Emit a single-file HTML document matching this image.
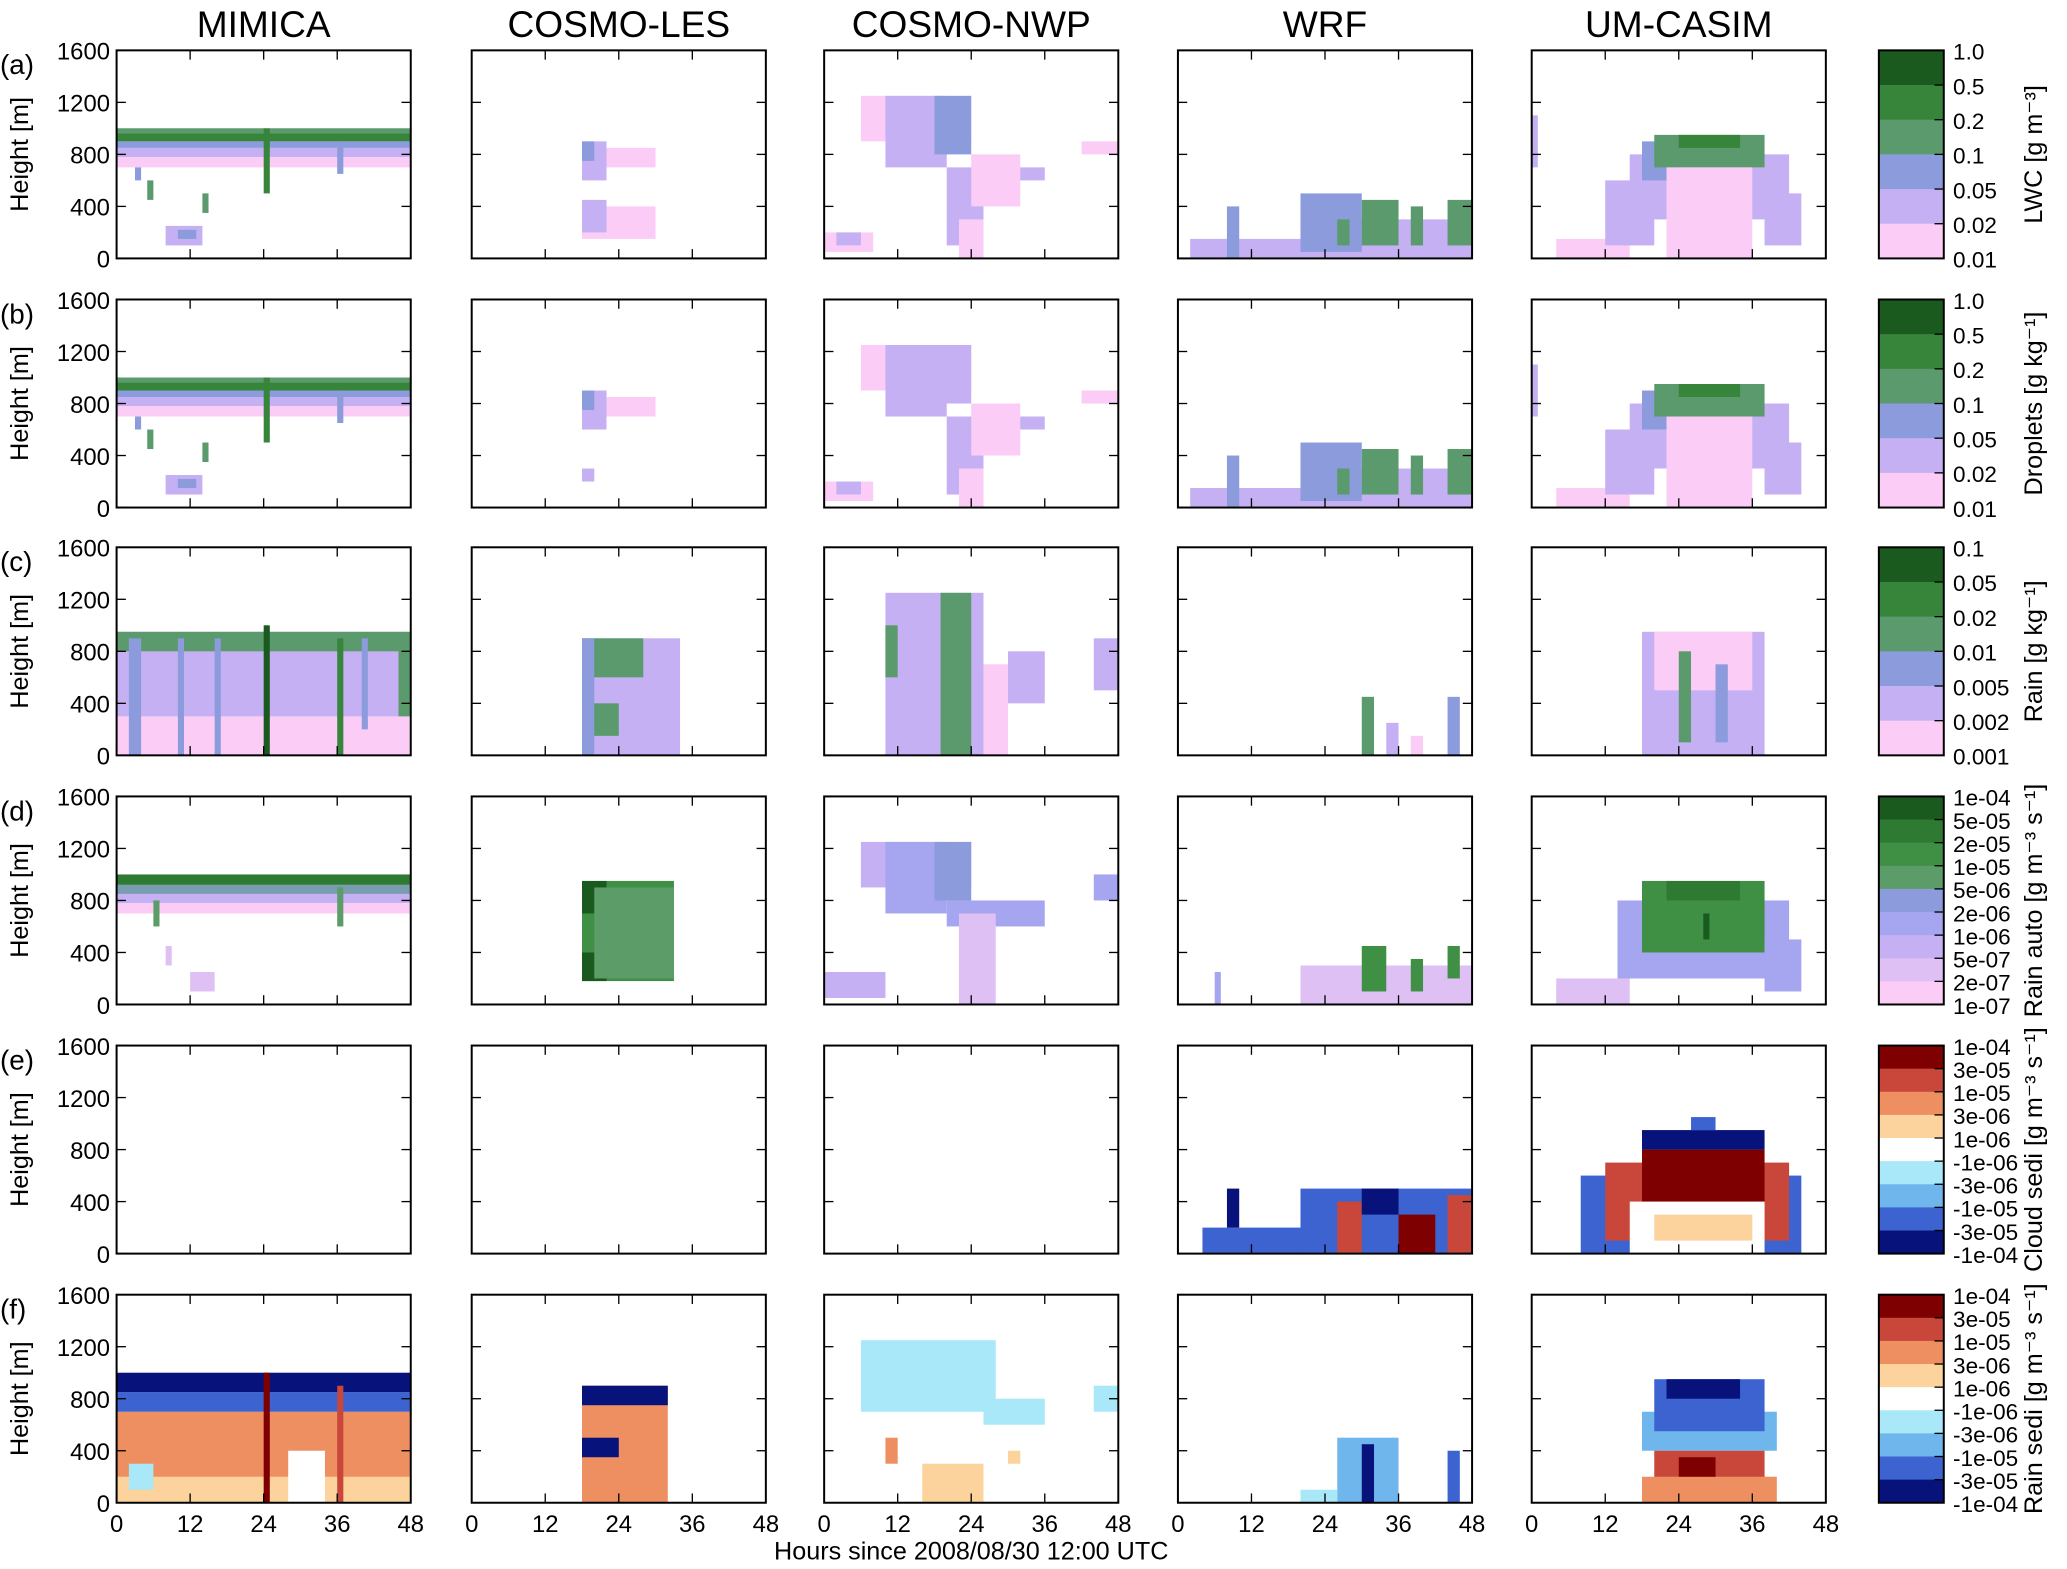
<!DOCTYPE html>
<html><head><meta charset="utf-8"><style>
html,body{margin:0;padding:0;background:#fff;}
svg{display:block;font-family:"Liberation Sans",sans-serif;}
</style></head><body>
<svg id="fig" width="2067" height="1569" viewBox="0 0 1560 1184" preserveAspectRatio="none" xmlns="http://www.w3.org/2000/svg"></svg>
<script>
const models=["MIMICA","COSMO-LES","COSMO-NWP","WRF","UM-CASIM"];
const rowLetters=["(a)","(b)","(c)","(d)","(e)","(f)"];
const xTicks=[0,12,24,36,48];
const yTicks=[0,400,800,1200,1600];
const cbLabels=[
 ["1.0","0.5","0.2","0.1","0.05","0.02","0.01"],
 ["1.0","0.5","0.2","0.1","0.05","0.02","0.01"],
 ["0.1","0.05","0.02","0.01","0.005","0.002","0.001"],
 ["1e-04","5e-05","2e-05","1e-05","5e-06","2e-06","1e-06","5e-07","2e-07","1e-07"],
 ["1e-04","3e-05","1e-05","3e-06","1e-06","-1e-06","-3e-06","-1e-05","-3e-05","-1e-04"],
 ["1e-04","3e-05","1e-05","3e-06","1e-06","-1e-06","-3e-06","-1e-05","-3e-05","-1e-04"]];
const cbTitles=["LWC [g m\u207B\u00B3]","Droplets [g kg\u207B\u00B9]","Rain [g kg\u207B\u00B9]","Rain auto [g m\u207B\u00B3 s\u207B\u00B9]","Cloud sedi [g m\u207B\u00B3 s\u207B\u00B9]","Rain sedi [g m\u207B\u00B3 s\u207B\u00B9]"];
const seqColors=["#1b5a1e","#37853a","#5b9a6c","#8c9bdc","#c4b0f3","#fbcdf6"];
const autoColors=["#1b5a1e","#2f7a32","#3f8f45","#5c9c68","#7a9cb0","#8c9bdc","#a6a5ef","#c4b0f3","#dfc0f5","#fbcdf6"];
const divColors=["#7f0000","#c9473a","#ee8f62","#fcd39d","#ffffff","#a8e8f8","#6fb6ec","#3d63d1","#07127a"];
// cells: [t0,t1,z0,z1,levelIndex] (level 0 = top of colorbar)
const lwcMimica=[[0,48,700,780,5],[0,48,780,850,4],[0,48,850,900,3],[0,48,900,1000,1],[0,48,960,1000,2],[24,25,500,1000,1],[14,15,350,500,2],[5,6,450,600,2],[8,14,100,250,4],[10,13,150,220,3],[3,4,600,700,3],[36,37,650,900,3]];
const lesA=[[18,30,150,400,5],[18,22,200,450,4],[18,30,700,850,5],[18,22,600,900,4],[18,20,750,900,3]];
const nwpA=[[6,24,900,1250,5],[10,20,700,1250,4],[18,24,800,1250,3],[20,26,100,700,4],[22,26,0,300,5],[0,8,50,200,5],[2,6,100,200,4],[42,48,800,900,5],[30,36,600,700,4],[24,32,400,800,5]];
const wrfA=[[2,48,0,150,4],[20,46,0,300,4],[8,10,0,400,3],[20,30,50,500,3],[30,36,100,450,2],[38,40,100,400,2],[44,48,100,450,2],[26,28,100,300,2]];
const umA=[[4,16,0,150,5],[12,20,100,600,4],[16,42,300,800,4],[18,24,600,900,3],[20,38,700,950,2],[24,34,850,950,1],[22,36,0,700,5],[38,44,100,500,4],[0,1,700,1100,4]];
const rainMimica=[[0,48,0,950,5],[0,48,300,950,4],[0,48,800,950,2],[2,4,0,900,3],[10,11,0,900,3],[16,17,0,900,3],[24,25,0,1000,0],[36,37,0,900,1],[40,41,200,900,3],[46,48,300,900,2]];
const lesC=[[18,34,0,900,4],[18,28,600,900,2],[18,24,150,400,2],[18,20,0,900,3]];
const nwpC=[[10,26,0,1250,4],[19,24,0,1250,2],[10,12,600,1000,2],[30,36,400,800,4],[44,48,500,900,4],[26,30,0,700,5]];
const wrfC=[[30,32,0,450,2],[34,36,0,250,4],[44,46,0,450,3],[38,40,0,150,5]];
const umC=[[18,38,0,950,4],[20,36,500,950,5],[24,26,100,800,2],[30,32,100,700,3]];
const autoMimica=[[0,48,700,780,9],[0,48,780,850,7],[0,48,850,920,4],[0,48,920,1000,1],[6,7,600,800,3],[36,37,600,900,3],[12,16,100,250,8],[8,9,300,450,8]];
const lesD=[[18,33,180,950,2],[18,22,700,950,0],[18,22,180,400,0],[20,33,200,900,3]];
const nwpD=[[6,24,900,1250,7],[10,20,700,1250,6],[18,24,800,1250,5],[20,36,600,800,6],[0,10,50,250,7],[44,48,800,1000,6],[22,28,0,700,8]];
const wrfD=[[20,48,0,300,8],[30,34,100,450,2],[38,40,100,350,2],[44,46,200,450,2],[6,7,0,250,6]];
const umD=[[4,16,0,200,8],[14,42,200,800,6],[18,38,400,950,2],[22,34,800,950,1],[28,29,500,700,0],[38,44,100,500,6]];
const wrfE=[[4,48,0,200,7],[20,48,0,500,7],[26,30,0,400,1],[36,42,0,300,0],[30,36,300,500,8],[8,10,200,500,8],[44,48,0,450,1]];
const umE=[[8,44,0,600,7],[12,42,100,700,1],[18,38,400,800,0],[18,38,800,950,8],[26,30,950,1050,7],[16,38,0,400,4],[20,36,100,300,3]];
const rainMimicaF=[[0,48,0,700,3],[0,48,200,700,2],[0,48,700,850,7],[0,48,850,1000,8],[24,25,0,1000,0],[36,37,0,900,1],[28,34,0,400,4],[2,6,100,300,5]];
const lesF=[[18,32,0,900,2],[18,32,750,900,8],[18,24,350,500,8]];
const nwpF=[[6,28,700,1250,5],[10,12,300,500,2],[16,26,0,300,3],[44,48,700,900,5],[26,36,600,800,5],[30,32,300,400,3]];
const wrfF=[[26,36,0,500,6],[30,32,0,450,8],[44,46,0,400,7],[20,26,0,100,5]];
const umF=[[18,40,400,700,6],[20,38,550,950,7],[22,34,800,950,8],[20,38,100,400,1],[18,40,0,200,2],[24,30,200,350,0]];
const panels=[
 [lwcMimica,lesA,nwpA,wrfA,umA],
 [lwcMimica,lesA.slice(2).concat([[18,20,200,300,4]]),nwpA.map(c=>[c[0],c[1],c[2],c[3],Math.max(4,c[4])]),wrfA,umA],
 [rainMimica,lesC,nwpC,wrfC,umC],
 [autoMimica,lesD,nwpD,wrfD,umD],
 [[],[],[],wrfE,umE],
 [rainMimicaF,lesF,nwpF,wrfF,umF]];
const palettes=[seqColors,seqColors,seqColors,autoColors,divColors,divColors];

const NS="http://www.w3.org/2000/svg";
const svg=document.getElementById("fig");
function el(tag,attrs,parent){const e=document.createElementNS(NS,tag);for(const k in attrs)e.setAttribute(k,attrs[k]);(parent||svg).appendChild(e);return e;}
const colX=[88,356,622,889,1156], pw=222;
const rowY=[38,226,413,601,789,977], ph=157;
const xs=(c,t)=>colX[c]+t/48*pw;
const ys=(r,z)=>rowY[r]+ph-z/1600*ph;

models.forEach((m,c)=>{
 const t=el("text",{x:colX[c]+pw/2,y:28,"text-anchor":"middle","font-size":28});
 t.textContent=m;
 
 
});
for(let r=0;r<6;r++){
 const lab=el("text",{x:0,y:rowY[r]+18,"font-size":21});lab.textContent=rowLetters[r];
 
 
 const yl=el("text",{x:0,y:0,"font-size":19,"text-anchor":"middle",transform:`translate(21,${rowY[r]+ph/2}) rotate(-90)`});yl.textContent="Height [m]";
 
 
 for(let c=0;c<5;c++){
  const g=el("g",{});
  
  
  const pal=palettes[r];
  panels[r][c].forEach(cell=>{
   const x0=xs(c,cell[0]),x1=xs(c,cell[1]),y0=ys(r,cell[3]),y1=ys(r,cell[2]);
   const rc=el("rect",{x:x0,y:y0,width:x1-x0,height:y1-y0,fill:pal[Math.min(cell[4],pal.length-1)]},g);
   
   
  });
  el("rect",{x:colX[c],y:rowY[r],width:pw,height:ph,fill:"none",stroke:"#000","stroke-width":1.5},g);
  xTicks.forEach(v=>{const x=xs(c,v);
   el("line",{x1:x,x2:x,y1:rowY[r]+ph,y2:rowY[r]+ph-7,stroke:"#000"},g);
   el("line",{x1:x,x2:x,y1:rowY[r],y2:rowY[r]+7,stroke:"#000"},g);
   if(r===5){const tt=el("text",{x:x,y:rowY[r]+ph+22,"text-anchor":"middle","font-size":18},g);tt.textContent=v;}
  });
  yTicks.forEach(v=>{const y=ys(r,v);
   el("line",{x1:colX[c],x2:colX[c]+7,y1:y,y2:y,stroke:"#000"},g);
   el("line",{x1:colX[c]+pw,x2:colX[c]+pw-7,y1:y,y2:y,stroke:"#000"},g);
   if(c===0){const tt=el("text",{x:colX[c]-5,y:y+7,"text-anchor":"end","font-size":18},g);tt.textContent=v;}
  });
 }
 const labs=cbLabels[r], n=labs.length-1, pal=palettes[r];
 const cb=el("g",{});
 
 
 for(let i=0;i<n;i++){
  const ci=pal.length===n?i:Math.round(i*(pal.length-1)/(n-1));
  el("rect",{x:1418,y:rowY[r]+i*ph/n,width:49,height:ph/n+0.5,fill:pal[ci]},cb);
 }
 el("rect",{x:1418,y:rowY[r],width:49,height:ph,fill:"none",stroke:"#000","stroke-width":1.5},cb);
 labs.forEach((l,i)=>{const y=rowY[r]+i*ph/n;
  el("line",{x1:1467,x2:1460,y1:y,y2:y,stroke:"#000"},cb);
  const tt=el("text",{x:1474,y:y+7,"font-size":17},cb);tt.textContent=l;});
 const ct=el("text",{x:0,y:0,"font-size":19,"text-anchor":"middle",transform:`translate(1541,${rowY[r]+ph/2}) rotate(-90)`});ct.textContent=cbTitles[r];
 
 
}
const xt=el("text",{x:733,y:1177,"text-anchor":"middle","font-size":19});
xt.textContent="Hours since 2008/08/30 12:00 UTC";


</script>
</body></html>
